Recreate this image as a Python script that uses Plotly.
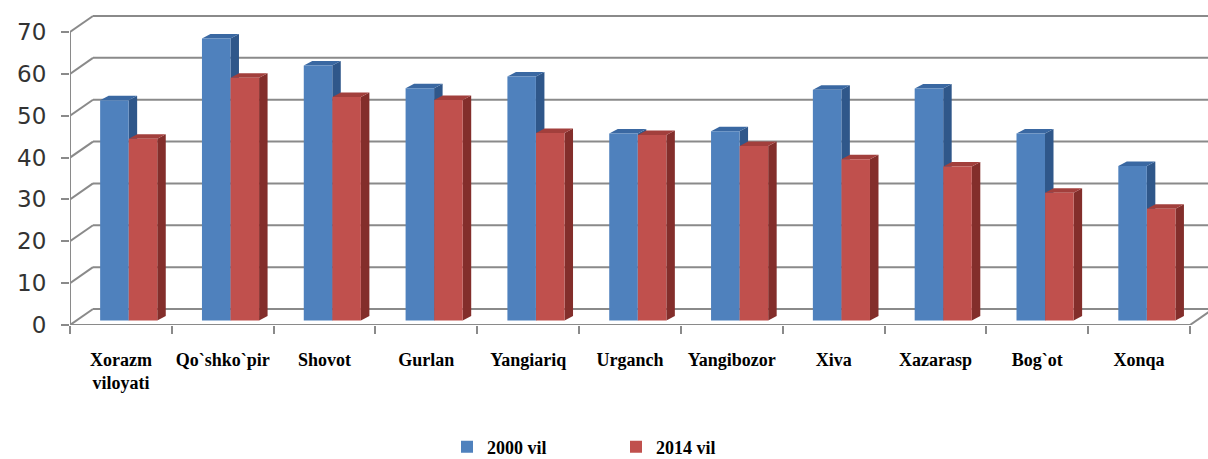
import plotly.graph_objects as go

# ---------------- data ----------------
categories = ["Xorazm<br>viloyati", "Qo`shko`pir", "Shovot", "Gurlan", "Yangiariq",
              "Urganch", "Yangibozor", "Xiva", "Xazarasp", "Bog`ot", "Xonqa"]
series_names = ["2000 vil", "2014 vil"]
values_2000 = [52.6, 67.4, 60.9, 55.5, 58.3, 44.7, 45.2, 55.1, 55.4, 44.7, 36.9]
values_2014 = [43.4, 58.0, 53.4, 52.7, 44.8, 44.3, 41.7, 38.5, 36.8, 30.5, 26.7]
y_ticks = [0, 10, 20, 30, 40, 50, 60, 70]

# ---------------- geometry / style ----------------
W, H = 1208, 459
PLOT_L, PLOT_T, PLOT_B = 70, 8, 325          # pixel frame of plot area
N = len(categories)
PXX = (1190 - 70) / N                        # px per category unit
PXY = 293 / 70                               # px per value unit
X_LEFT, X_RIGHT = -0.5, N - 0.5
X_MAX = X_LEFT + (W - PLOT_L) / PXX
Y_MAX = (PLOT_B - PLOT_T) / PXY

WALL_DX, WALL_DY = 23 / PXX, 16 / PXY        # 3-D depth offset of back wall
BAR_BASE = 4.5 / PXY                         # bars sit a little behind front edge
BAR_DX, BAR_DY = 8.5 / PXX, 4.5 / PXY        # bar depth
BAR_W = 0.28
OFFSETS = [-0.064, 0.217]

GRID = "#8a8a8a"
FRONT = ["#4F81BD", "#C0504D"]
SIDE = ["#2F578A", "#832E2B"]
TOP = ["#3A68A2", "#A23F3C"]

fig = go.Figure()
shapes = []

# back wall gridlines + left wall diagonals
for v in y_ticks:
    shapes.append(dict(type="line", xref="x", yref="y", layer="below",
                       x0=X_LEFT + WALL_DX, y0=v + WALL_DY, x1=X_MAX, y1=v + WALL_DY,
                       line=dict(color=GRID, width=2)))
    shapes.append(dict(type="line", xref="x", yref="y", layer="below",
                       x0=X_LEFT, y0=v, x1=X_LEFT + WALL_DX, y1=v + WALL_DY,
                       line=dict(color=GRID, width=2)))
# front vertical axis line
shapes.append(dict(type="line", xref="x", yref="y", layer="below",
                   x0=X_LEFT, y0=0, x1=X_LEFT, y1=y_ticks[-1],
                   line=dict(color=GRID, width=2)))
# floor front edge and right edge
shapes.append(dict(type="line", xref="x", yref="y", layer="below",
                   x0=X_LEFT, y0=0, x1=X_RIGHT, y1=0, line=dict(color=GRID, width=2)))
shapes.append(dict(type="line", xref="x", yref="y", layer="below",
                   x0=X_RIGHT, y0=0, x1=X_RIGHT + WALL_DX, y1=WALL_DY,
                   line=dict(color=GRID, width=2)))

# bar side and top faces (computed from data)
for i in range(N):
    for s, vals in enumerate([values_2000, values_2014]):
        xc = i + OFFSETS[s]
        x0, x1 = xc - BAR_W / 2, xc + BAR_W / 2
        b, t = BAR_BASE, BAR_BASE + vals[i]
        side = (f"M{x1},{b} L{x1 + BAR_DX},{b + BAR_DY} "
                f"L{x1 + BAR_DX},{t + BAR_DY} L{x1},{t} Z")
        top = (f"M{x0},{t} L{x0 + BAR_DX},{t + BAR_DY} "
               f"L{x1 + BAR_DX},{t + BAR_DY} L{x1},{t} Z")
        shapes.append(dict(type="path", xref="x", yref="y", layer="below", path=side,
                           fillcolor=SIDE[s], line=dict(width=0)))
        shapes.append(dict(type="path", xref="x", yref="y", layer="below", path=top,
                           fillcolor=TOP[s], line=dict(width=0)))

for s, vals in enumerate([values_2000, values_2014]):
    fig.add_trace(go.Bar(
        x=[i + OFFSETS[s] for i in range(N)], y=vals, base=BAR_BASE, width=BAR_W,
        name=series_names[s], marker=dict(color=FRONT[s], line=dict(width=0)),
    ))

fig.update_layout(
    width=W, height=H,
    margin=dict(l=PLOT_L, r=0, t=PLOT_T, b=H - PLOT_B, autoexpand=False),
    paper_bgcolor="white", plot_bgcolor="white",
    barmode="overlay",
    shapes=shapes,
    showlegend=True,
    legend=dict(orientation="h", xref="paper", yref="paper",
                x=(616 - PLOT_L) / (W - PLOT_L), xanchor="center",
                y=(PLOT_B - 447) / (PLOT_B - PLOT_T), yanchor="middle",
                font=dict(family="Liberation Serif", size=18, color="black", weight="bold"),
                entrywidth=124, itemwidth=30),
    xaxis=dict(range=[X_LEFT, X_MAX], tickmode="array", automargin=False,
               tickvals=list(range(N)), ticktext=categories,
               ticks="", showgrid=False, zeroline=False, showline=False,
               ticklabelstandoff=22,
               tickfont=dict(family="Liberation Serif", size=18, color="black", weight="bold"),
               minor=dict(tickmode="array", tickvals=[X_LEFT + k for k in range(N + 1)],
                          ticks="outside", ticklen=8, tickwidth=2, tickcolor=GRID,
                          showgrid=False)),
    yaxis=dict(range=[0, Y_MAX], tickmode="array", tickvals=y_ticks, automargin=False,
               ticks="outside", ticklen=8, tickwidth=2, tickcolor=GRID,
               showgrid=False, zeroline=False, showline=False,
               ticklabelstandoff=10,
               tickfont=dict(family="DejaVu Sans", size=23, color="#333333")),
)

fig.write_html("out.html", config={"displayModeBar": False},
               post_script="document.body.style.margin='0';document.body.style.overflow='hidden';")
